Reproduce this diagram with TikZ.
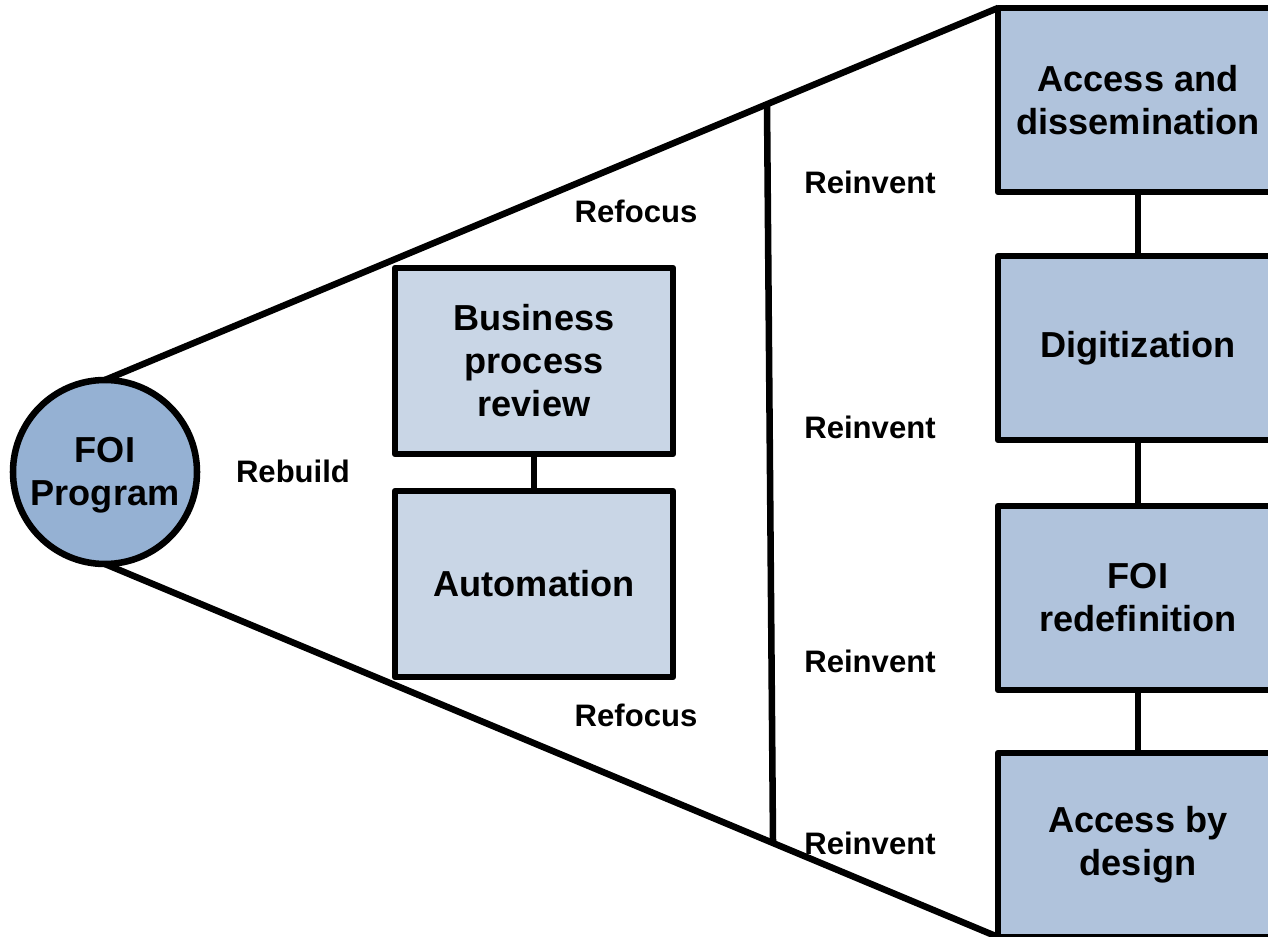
\documentclass[tikz,border=0pt]{standalone}
\usepackage{fontspec}
\setmainfont{Liberation Sans}
\definecolor{circfill}{HTML}{95B1D3}
\definecolor{boxmid}{HTML}{C9D6E6}
\definecolor{boxright}{HTML}{B0C3DC}
\newcommand\boxfont{\fontsize{27.1}{32.25}\selectfont\bfseries}
\newcommand\labfont{\fontsize{23.3}{28}\selectfont\bfseries}
\begin{document}
\begin{tikzpicture}[x=0.75pt,y=-0.75pt,
  line width=4.9pt, line join=round,
  every node/.style={outer sep=0pt},
  midbox/.style={draw, fill=boxmid, rectangle, inner sep=0pt, align=center,
    minimum width=208.5pt, minimum height=139.5pt, font=\boxfont},
  rightbox/.style={draw, fill=boxright, rectangle, inner sep=0pt, align=center,
    minimum width=210pt, minimum height=138pt, font=\boxfont},
  hub/.style={draw, fill=circfill, circle, inner sep=0pt, align=center,
    minimum size=138pt, font=\boxfont},
  lab/.style={inner sep=0pt, font=\labfont},
  link/.style={draw, line width=4.9pt}
]
\useasboundingbox (0,0) rectangle (1268,937);
\clip (0,0) rectangle (1268,937);

\node[hub] (foi) at (105,472) {\raisebox{-2.3pt}[\height][\depth]{\begin{tabular}{@{}c@{}}FOI\\Program\end{tabular}}};

\node[midbox] (bpr) at (534,361) {Business\\process\\review};
\node[midbox] (aut) at (534,584) {Automation};

\node[rightbox] (acc) at (1138,100) {Access and\\dissemination};
\node[rightbox] (dig) at (1138,348) {Digitization};
\node[rightbox] (red) at (1138,598) {FOI\\redefinition};
\node[rightbox] (abd) at (1138,845) {Access by\\design};

\draw[link] (foi.north) -- (acc.north west);
\draw[link] (foi.south) -- (abd.south west);

\coordinate (vt) at (767,104);
\coordinate (vb) at (773,842);
\draw[link] (vt) -- (vb);

\draw[link] (bpr.south) -- (aut.north);
\draw[link] (acc.south) -- (dig.north);
\draw[link] (dig.south) -- (red.north);
\draw[link] (red.south) -- (abd.north);

\node[lab] (rebuild) at (293,471) {Rebuild};
\node[lab] (refocus1) at (636,211) {Refocus};
\node[lab] (refocus2) at (636,715) {Refocus};
\node[lab] (reinv1) at (870,182) {Reinvent};
\node[lab] (reinv2) at (870,427) {Reinvent};
\node[lab] (reinv3) at (870,661) {Reinvent};
\node[lab] (reinv4) at (870,843) {Reinvent};
\end{tikzpicture}
\end{document}
